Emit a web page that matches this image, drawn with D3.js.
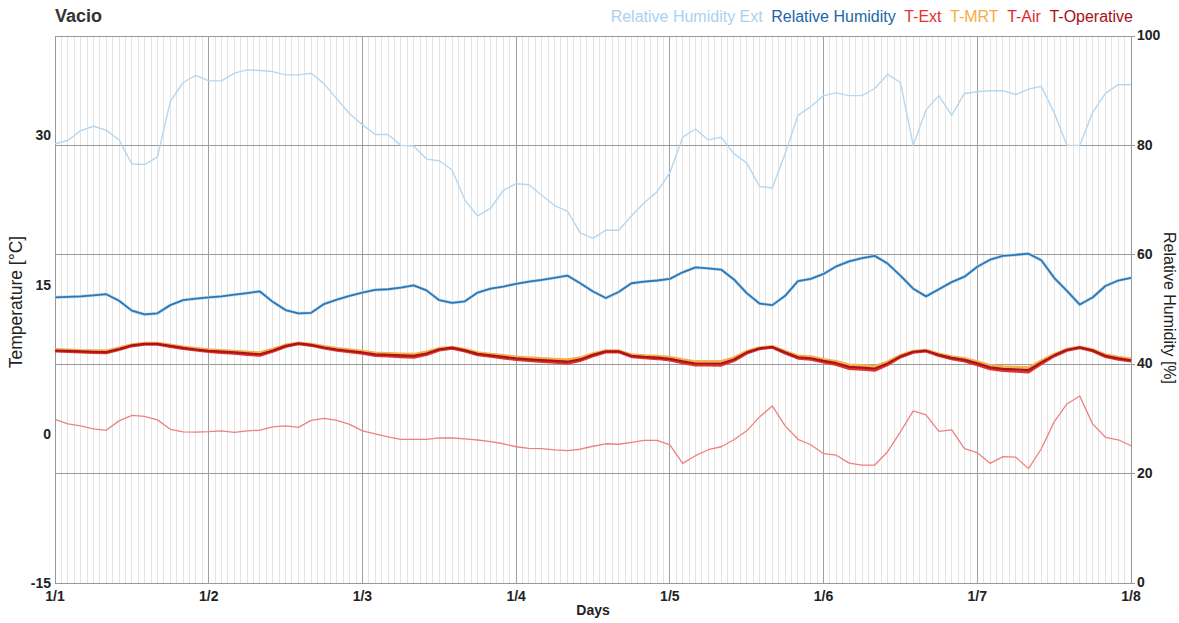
<!DOCTYPE html>
<html>
<head>
<meta charset="utf-8">
<script src="https://cdn.jsdelivr.net/npm/d3@7"></script>
<style>
  html, body { margin: 0; padding: 0; background: #fff; }
  svg { display: block; font-family: "Liberation Sans", Arial, sans-serif; }
</style>
</head>
<body>
<svg id="chart" width="1179" height="623"></svg>
<script>
// ---------- DATA ----------
const hours = d3.range(0, 169, 2); // sampled every 2 hours, 1/1 00:00 .. 1/8 00:00
const dayTicks = [0, 24, 48, 72, 96, 120, 144, 168];
const dayLabels = ["1/1", "1/2", "1/3", "1/4", "1/5", "1/6", "1/7", "1/8"];
const tempTicks = [-15, 0, 15, 30];
const rhTicks = [0, 20, 40, 60, 80, 100];

const seriesNames = ["Relative Humidity Ext", "Relative Humidity", "T-Ext", "T-MRT", "T-Air", "T-Operative"];

const rhExt = [80.3, 80.9, 82.7, 83.5, 82.8, 81.0, 76.6, 76.5, 77.9, 88.0,
  91.5, 92.8, 91.8, 91.8, 93.2, 93.8, 93.7, 93.5, 92.9, 92.9,
  93.2, 91.3, 88.5, 85.8, 83.8, 82.0, 82.0, 80.0, 79.9, 77.5,
  77.2, 75.5, 70.0, 67.1, 68.5, 71.8, 73.0, 72.8, 70.9, 69.0,
  68.0, 64.0, 63.0, 64.5, 64.5, 67.1, 69.5, 71.5, 75.0, 81.5,
  83.0, 81.0, 81.5, 78.5, 76.8, 72.5, 72.2, 78.5, 85.5, 87.1,
  89.1, 89.6, 89.1, 89.1, 90.4, 93.0, 91.5, 80.0, 86.5, 89.1,
  85.5, 89.5, 89.8, 90.0, 90.0, 89.3, 90.3, 90.8, 86.0, 80.0,
  80.0, 86.0, 89.5, 91.1, 91.1];

const rhIn = [52.2, 52.3, 52.4, 52.6, 52.8, 51.6, 49.8, 49.1, 49.3, 50.8,
  51.7, 52.0, 52.2, 52.4, 52.7, 53.0, 53.3, 51.4, 49.9, 49.3,
  49.4, 51.0, 51.8, 52.5, 53.1, 53.6, 53.7, 54.0, 54.4, 53.5,
  51.7, 51.2, 51.5, 53.1, 53.8, 54.2, 54.7, 55.1, 55.4, 55.8,
  56.2, 54.8, 53.3, 52.1, 53.2, 54.8, 55.1, 55.3, 55.6, 56.8,
  57.7, 57.5, 57.3, 55.5, 53.0, 51.1, 50.8, 52.5, 55.2, 55.6,
  56.5, 57.9, 58.8, 59.4, 59.8, 58.4, 56.2, 53.8, 52.4, 53.7,
  55.0, 56.0, 57.8, 59.1, 59.8, 60.0, 60.2, 59.0, 55.8, 53.4,
  50.9, 52.2, 54.3, 55.3, 55.8];

const tExt = [1.46, 1.0, 0.8, 0.5, 0.35, 1.3, 1.85, 1.75, 1.4, 0.45,
  0.2, 0.18, 0.22, 0.3, 0.15, 0.3, 0.36, 0.7, 0.8, 0.65,
  1.35, 1.55, 1.35, 0.95, 0.3, 0.0, -0.3, -0.56, -0.56, -0.56,
  -0.4, -0.42, -0.5, -0.62, -0.78, -1.0, -1.3, -1.47, -1.49, -1.62,
  -1.7, -1.55, -1.25, -1.0, -1.05, -0.85, -0.65, -0.65, -1.12, -2.97,
  -2.2, -1.6, -1.3, -0.6, 0.3, 1.7, 2.8, 0.8, -0.55, -1.1,
  -2.0, -2.15, -2.95, -3.14, -3.14, -1.8, 0.2, 2.3, 1.9, 0.25,
  0.4, -1.5, -1.9, -2.97, -2.3, -2.35, -3.5, -1.5, 1.2, 3.0,
  3.8, 1.0, -0.35, -0.6, -1.2];

const tMrt = [8.5, 8.45, 8.4, 8.38, 8.36, 8.65, 8.98, 9.12, 9.12, 8.94,
  8.75, 8.6, 8.47, 8.4, 8.33, 8.24, 8.18, 8.52, 8.94, 9.16,
  9.03, 8.8, 8.61, 8.47, 8.33, 8.14, 8.1, 8.05, 8.01, 8.24,
  8.6, 8.73, 8.5, 8.17, 8.03, 7.89, 7.75, 7.66, 7.59, 7.53,
  7.46, 7.66, 8.07, 8.38, 8.38, 7.96, 7.88, 7.82, 7.71, 7.48,
  7.28, 7.29, 7.3, 7.66, 8.3, 8.67, 8.8, 8.3, 7.85, 7.76,
  7.5, 7.3, 6.95, 6.88, 6.8, 7.26, 7.9, 8.32, 8.42, 8.05,
  7.78, 7.6, 7.27, 6.89, 6.76, 6.72, 6.66, 7.36, 8.0, 8.52,
  8.76, 8.48, 7.96, 7.72, 7.55];

const tAir = [8.3, 8.25, 8.2, 8.16, 8.12, 8.45, 8.82, 8.98, 8.98, 8.76,
  8.55, 8.4, 8.25, 8.16, 8.07, 7.96, 7.88, 8.28, 8.76, 9.03,
  8.87, 8.6, 8.39, 8.23, 8.07, 7.86, 7.8, 7.74, 7.68, 7.96,
  8.4, 8.58, 8.3, 7.93, 7.77, 7.61, 7.45, 7.34, 7.25, 7.17,
  7.08, 7.34, 7.83, 8.21, 8.22, 7.74, 7.62, 7.54, 7.39, 7.12,
  6.9, 6.89, 6.88, 7.34, 8.1, 8.53, 8.68, 8.1, 7.59, 7.48,
  7.2, 6.94, 6.55, 6.46, 6.36, 6.94, 7.7, 8.18, 8.3, 7.85,
  7.52, 7.3, 6.93, 6.51, 6.34, 6.28, 6.2, 7.04, 7.8, 8.38,
  8.64, 8.32, 7.74, 7.48, 7.29];

const tOp = [8.38, 8.33, 8.28, 8.25, 8.22, 8.53, 8.9, 9.05, 9.04, 8.84,
  8.64, 8.48, 8.34, 8.26, 8.18, 8.08, 8.0, 8.38, 8.84, 9.1,
  8.94, 8.68, 8.48, 8.33, 8.18, 7.98, 7.93, 7.88, 7.83, 8.08,
  8.5, 8.66, 8.39, 8.04, 7.88, 7.73, 7.58, 7.48, 7.4, 7.33,
  7.25, 7.48, 7.94, 8.3, 8.29, 7.84, 7.73, 7.66, 7.53, 7.28,
  7.07, 7.07, 7.07, 7.48, 8.19, 8.6, 8.74, 8.19, 7.7, 7.6,
  7.33, 7.1, 6.73, 6.65, 6.56, 7.08, 7.79, 8.25, 8.36, 7.94,
  7.63, 7.43, 7.08, 6.68, 6.53, 6.48, 6.41, 7.18, 7.89, 8.45,
  8.7, 8.39, 7.84, 7.58, 7.4];

// ---------- LAYOUT ----------
const W = 1179, H = 623;
const M = { left: 55, right: 48, top: 36, bottom: 40 };
const iw = W - M.left - M.right, ih = H - M.top - M.bottom;

const svg = d3.select("#chart");
const g = svg.append("g").attr("transform", `translate(${M.left},${M.top})`);

const x = d3.scaleLinear().domain([0, 168]).range([0, iw]);
const yT = d3.scaleLinear().domain([-15, 40]).range([ih, 0]);
const yRH = d3.scaleLinear().domain([0, 100]).range([ih, 0]);

// minor hourly grid
g.append("g").selectAll("line").data(d3.range(1, 168).filter(h => h % 24 !== 0))
  .join("line")
  .attr("x1", d => x(d)).attr("x2", d => x(d))
  .attr("y1", 0).attr("y2", ih)
  .attr("stroke", "#e4e4e4").attr("stroke-width", 1).attr("shape-rendering", "crispEdges");

// major day grid
g.append("g").selectAll("line").data(dayTicks)
  .join("line")
  .attr("x1", d => x(d)).attr("x2", d => x(d))
  .attr("y1", 0).attr("y2", ih)
  .attr("stroke", "#a0a0a0").attr("stroke-width", 1).attr("shape-rendering", "crispEdges");

// horizontal grid (RH ticks)
g.append("g").selectAll("line").data(rhTicks)
  .join("line")
  .attr("x1", 0).attr("x2", iw)
  .attr("y1", d => yRH(d)).attr("y2", d => yRH(d))
  .attr("stroke", "#999").attr("stroke-width", 1).attr("shape-rendering", "crispEdges");

// frame
g.append("rect").attr("x", 0).attr("y", 0).attr("width", iw).attr("height", ih)
  .attr("fill", "none").attr("stroke", "#999").attr("shape-rendering", "crispEdges");

// ---------- LINES ----------
const lineRH = arr => d3.line().x((d, i) => x(hours[i])).y(d => yRH(d))(arr);
const lineT = arr => d3.line().x((d, i) => x(hours[i])).y(d => yT(d))(arr);

g.append("path").attr("d", lineRH(rhExt)).attr("fill", "none")
  .attr("stroke", "#b5d7f1").attr("stroke-width", 1.4).attr("stroke-linejoin", "round");
g.append("path").attr("d", lineRH(rhIn)).attr("fill", "none")
  .attr("stroke", "#bcdcf4").attr("stroke-width", 3.2).attr("stroke-linejoin", "round");
g.append("path").attr("d", lineRH(rhIn)).attr("fill", "none")
  .attr("stroke", "#2f77b2").attr("stroke-width", 1.8).attr("stroke-linejoin", "round");
g.append("path").attr("d", lineT(tExt)).attr("fill", "none")
  .attr("stroke", "#ef8080").attr("stroke-width", 1.3).attr("stroke-linejoin", "round");
g.append("path").attr("d", lineT(tMrt)).attr("fill", "none")
  .attr("stroke", "#f6b04a").attr("stroke-width", 2.6).attr("stroke-linejoin", "round");
g.append("path").attr("d", lineT(tAir)).attr("fill", "none")
  .attr("stroke", "#e3342c").attr("stroke-width", 2.6).attr("stroke-linejoin", "round");
g.append("path").attr("d", lineT(tOp)).attr("fill", "none")
  .attr("stroke", "#a8141c").attr("stroke-width", 2.2).attr("stroke-linejoin", "round");

// ---------- AXES ----------
const axisTextStyle = sel => sel.attr("font-size", 14).attr("font-weight", "bold").attr("fill", "#222");

// left temperature axis labels
g.append("g").selectAll("text").data(tempTicks).join("text")
  .attr("x", -4).attr("y", d => yT(d)).attr("dy", "0.35em")
  .attr("text-anchor", "end").text(d => d).call(axisTextStyle);

// right RH axis ticks + labels
g.append("g").selectAll("line").data(rhTicks).join("line")
  .attr("x1", iw).attr("x2", iw + 4).attr("y1", d => yRH(d)).attr("y2", d => yRH(d))
  .attr("stroke", "#999").attr("shape-rendering", "crispEdges");
g.append("g").selectAll("text").data(rhTicks).join("text")
  .attr("x", iw + 6).attr("y", d => yRH(d)).attr("dy", "0.3em")
  .attr("text-anchor", "start").text(d => d).call(axisTextStyle);

// bottom day labels
g.append("g").selectAll("text").data(dayTicks).join("text")
  .attr("x", d => x(d)).attr("y", ih + 18)
  .attr("text-anchor", "middle").text((d, i) => dayLabels[i]).call(axisTextStyle);

// axis titles
svg.append("text").attr("x", 593).attr("y", 615).attr("text-anchor", "middle")
  .text("Days").call(axisTextStyle);
svg.append("text").attr("transform", "translate(22,302) rotate(-90)")
  .attr("text-anchor", "middle").attr("font-size", 17.5).attr("fill", "#222")
  .text("Temperature [°C]");
svg.append("text").attr("transform", "translate(1164,308) rotate(90)")
  .attr("text-anchor", "middle").attr("font-size", 16).attr("fill", "#222")
  .text("Relative Humidity [%]");

// title
svg.append("text").attr("x", 55).attr("y", 22).attr("font-size", 18).attr("font-weight", "bold")
  .attr("fill", "#333").text("Vacio");

// ---------- LEGEND ----------
const legendColors = ["#a9d2f0", "#2166a8", "#e8302c", "#f6ad45", "#dc2a2a", "#a50f15"];
const legend = svg.append("g");
const items = legend.selectAll("text").data(seriesNames).join("text")
  .attr("y", 22).attr("font-size", 16).attr("fill", (d, i) => legendColors[i]).text(d => d);
let cursor = 1133;
const nodes = items.nodes();
for (let i = nodes.length - 1; i >= 0; i--) {
  const w = nodes[i].getComputedTextLength();
  cursor -= w;
  d3.select(nodes[i]).attr("x", cursor);
  cursor -= 8.5;
}
</script>
</body>
</html>
